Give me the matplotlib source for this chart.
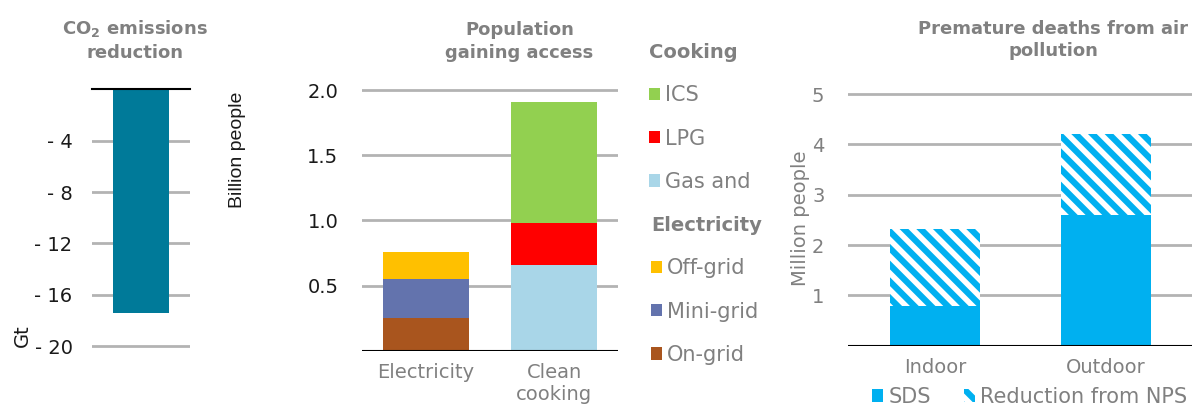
import matplotlib.pyplot as plt
import matplotlib as mpl

mpl.rcParams['font.family'] = ['DejaVu Sans']
mpl.rcParams['hatch.linewidth'] = 4.0

# data
co2_reduction = [-17.4]
co2_ticks = [-4, -8, -12, -16, -20]
co2_ticklabels = ['- 4', '- 8', '- 12', '- 16', '- 20']

access_cats = ['Electricity', 'Clean\ncooking']
on_grid = [0.25, 0]
mini_grid = [0.30, 0]
off_grid = [0.205, 0]
gas = [0, 0.66]
lpg = [0, 0.32]
ics = [0, 0.93]

death_cats = ['Indoor', 'Outdoor']
sds = [0.79, 2.6]
reduction_nps = [1.52, 1.61]

GREY = '#808080'
DARK = '#1a1a1a'
GRID = '#b3b3b3'
FS = 14
LFS = 15
W, H = 1195, 405

fig = plt.figure(figsize=(W / 100, H / 100), dpi=100)


def box(x0, x1, y_top, y_bottom):
    return [x0 / W, 1 - y_bottom / H, (x1 - x0) / W, (y_bottom - y_top) / H]


def style(ax):
    for s in ax.spines.values():
        s.set_visible(False)
    ax.tick_params(length=0, labelsize=FS)
    ax.yaxis.grid(True, color=GRID, linewidth=2)
    ax.set_axisbelow(True)


title_kw = dict(ha='center', va='center', fontsize=13, fontweight='bold', color=GREY, linespacing=1.35)

# panel 1: CO2
ax1 = fig.add_axes(box(92, 190, 89.3, 352.5))
style(ax1)
ax1.bar([0.5], co2_reduction, width=0.57, color='#007a99', zorder=2)
ax1.set_xlim(0, 1)
ax1.set_ylim(-20.5, 0)
ax1.set_xticks([])
ax1.set_yticks(co2_ticks)
ax1.set_yticklabels(co2_ticklabels, color=DARK)
ax1.tick_params(axis='y', pad=14)
ax1.axhline(0, color='black', linewidth=1.5, clip_on=False, zorder=3)
fig.text(135 / W, 1 - 40 / H, 'CO$_\\mathbf{2}$ emissions\nreduction', **title_kw)
fig.text(22 / W, 1 - 336 / H, 'Gt', rotation=90, ha='center', va='center', fontsize=FS, color=DARK)

# panel 2: access
ax2 = fig.add_axes(box(362, 618, 87.4, 350.7))
style(ax2)
x = range(len(access_cats))
b_on = ax2.bar(x, on_grid, width=0.666, color='#a9551e', zorder=2)
b_mini = ax2.bar(x, mini_grid, bottom=on_grid, width=0.666, color='#6373ad', zorder=2)
bot = [a + b for a, b in zip(on_grid, mini_grid)]
b_off = ax2.bar(x, off_grid, bottom=bot, width=0.666, color='#ffc000', zorder=2)
b_gas = ax2.bar(x, gas, width=0.666, color='#a9d6e8', zorder=2)
b_lpg = ax2.bar(x, lpg, bottom=gas, width=0.666, color='#ff0000', zorder=2)
bot = [a + b for a, b in zip(gas, lpg)]
b_ics = ax2.bar(x, ics, bottom=bot, width=0.666, color='#92d050', zorder=2)
ax2.set_xlim(-0.5, 1.5)
ax2.set_ylim(0, 2.02)
ax2.set_yticks([0.5, 1.0, 1.5, 2.0])
ax2.set_yticklabels(['0.5', '1.0', '1.5', '2.0'], color=DARK)
ax2.tick_params(axis='y', pad=17)
ax2.set_xticks(list(x))
ax2.set_xticklabels(access_cats, color=GREY)
ax2.tick_params(axis='x', pad=9)
ax2.axhline(0, color='black', linewidth=1.5, zorder=3)
fig.text(519.5 / W, 1 - 41.5 / H, 'Population\ngaining access', **title_kw)
fig.text(237 / W, 1 - 149.5 / H, 'Billion people', rotation=90, ha='center', va='center',
         fontsize=FS, color=DARK, family='Liberation Sans')

leg_kw = dict(frameon=False, fontsize=LFS, handlelength=0.53, handleheight=0.53,
              handletextpad=0.25, labelspacing=1.12, alignment='left', borderpad=0,
              borderaxespad=0, labelcolor=GREY,
              title_fontproperties={'weight': 'bold', 'size': FS})
lg1 = fig.legend([b_ics, b_lpg, b_gas], ['ICS', 'LPG', 'Gas and'], title='Cooking',
                 loc='upper left', bbox_to_anchor=(649 / W, 1 - 43 / H), **leg_kw)
lg1.get_title().set_color(GREY)
lg2 = fig.legend([b_off, b_mini, b_on], ['Off-grid', 'Mini-grid', 'On-grid'], title='Electricity',
                 loc='upper left', bbox_to_anchor=(651 / W, 1 - 216 / H), **leg_kw)
lg2.get_title().set_color(GREY)

# panel 3: premature deaths
ax3 = fig.add_axes(box(848, 1192, 91.5, 345.7))
style(ax3)
x3 = range(len(death_cats))
b_sds = ax3.bar(x3, sds, width=0.527, color='#00b0f0', zorder=2)
b_red = ax3.bar(x3, reduction_nps, bottom=sds, width=0.527, color='#00b0f0',
                edgecolor='white', linewidth=0, hatch='\\\\', zorder=2)
ax3.set_xlim(-0.51, 1.505)
ax3.set_ylim(0, 5.05)
ax3.set_yticks([1, 2, 3, 4, 5])
ax3.set_yticklabels(['1', '2', '3', '4', '5'], color=GREY)
ax3.tick_params(axis='y', pad=17)
ax3.set_xticks(list(x3))
ax3.set_xticklabels(death_cats, color=GREY)
ax3.tick_params(axis='x', pad=9)
ax3.axhline(0, color='black', linewidth=1.5, zorder=3)
ax3.set_ylabel('Million people', fontsize=FS, color=GREY, labelpad=1.5)
fig.text(1053 / W, 1 - 40 / H, 'Premature deaths from air\npollution', **title_kw)
fig.legend([b_sds, b_red], ['SDS', 'Reduction from NPS'], ncol=2, frameon=False, fontsize=LFS,
           handlelength=0.53, handleheight=0.53, handletextpad=0.25, columnspacing=1.6,
           borderpad=0, borderaxespad=0, labelcolor=GREY, loc='center left',
           bbox_to_anchor=(872 / W, 1 - 397 / H))

fig.savefig('out.png', dpi=100)
